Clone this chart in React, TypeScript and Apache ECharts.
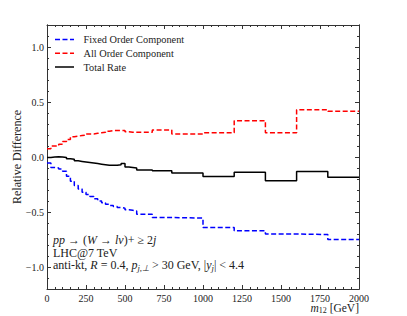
import React, { useEffect, useRef } from "react";
import * as echarts from "echarts";

// Bin edges (GeV) of m12
const binEdges = [0, 25, 50, 75, 100, 125, 150, 175, 200, 225, 250, 275, 300, 325, 350, 375, 400, 425, 450, 475, 500, 525, 550, 575, 675, 800, 1000, 1200, 1400, 1600, 1800, 2000];

// Relative difference per bin
const fixedOrder = [-0.055, -0.095, -0.1, -0.11, -0.13, -0.175, -0.22, -0.26, -0.29, -0.32, -0.34, -0.36, -0.38, -0.4, -0.415, -0.43, -0.44, -0.45, -0.46, -0.465, -0.48, -0.485, -0.49, -0.52, -0.55, -0.555, -0.64, -0.67, -0.7, -0.705, -0.75];
const allOrder = [0.075, 0.1, 0.1, 0.115, 0.14, 0.16, 0.185, 0.19, 0.195, 0.2, 0.21, 0.21, 0.215, 0.22, 0.225, 0.235, 0.24, 0.24, 0.24, 0.24, 0.23, 0.225, 0.225, 0.225, 0.245, 0.21, 0.22, 0.33, 0.22, 0.43, 0.415];
const totalRate = [-0.005, 0.0, 0.003, 0.0, -0.005, -0.015, -0.02, -0.035, -0.04, -0.045, -0.05, -0.055, -0.06, -0.065, -0.07, -0.075, -0.075, -0.075, -0.07, -0.06, -0.09, -0.095, -0.1, -0.118, -0.126, -0.146, -0.178, -0.138, -0.215, -0.132, -0.183];

const seriesNames = ["Fixed Order Component", "All Order Component", "Total Rate"];
const seriesColors = ["#0000ff", "#ff0000", "#000000"];
const seriesDashed = [true, true, false];
const yMajorTicks = [-1.0, -0.5, 0.0, 0.5, 1.0];
const yMinorTicks = [-1.2, -1.1, -0.9, -0.8, -0.7, -0.6, -0.4, -0.3, -0.2, -0.1, 0.1, 0.2, 0.3, 0.4, 0.6, 0.7, 0.8, 0.9, 1.1, 1.2];

const FONT = "Liberation Serif";
const DASH = [5, 2.5];

function toSteps(vals: number[]) {
  const pts: number[][] = vals.map((v, i) => [binEdges[i], v]);
  pts.push([binEdges[binEdges.length - 1], vals[vals.length - 1]]);
  return pts;
}

function fmt(v: number) {
  return v < 0 ? "\u2212" + Math.abs(v).toFixed(1) : v.toFixed(1);
}

export default function App() {
  const ref = useRef<HTMLDivElement>(null);
  useEffect(() => {
    if (!ref.current) return;
    const chart = echarts.init(ref.current, undefined, { renderer: "svg" });
    const axisLine = { show: true, onZero: false, lineStyle: { color: "#333", width: 1 } };
    const baseX = {
      type: "value" as const,
      min: 0,
      max: 2000,
      interval: 250,
      axisLine,
      splitLine: { show: false },
      axisTick: { show: true, inside: true, length: 4, lineStyle: { color: "#333" } },
      minorTick: { show: true, splitNumber: 5, length: 2, lineStyle: { color: "#333" } },
    };
    const baseY = {
      type: "value" as const,
      min: -1.2,
      max: 1.2,
      axisLine,
      splitLine: { show: false },
    };
    const legendY = [39.5, 53.3, 67];
    const legendGraphics: any[] = [];
    seriesNames.forEach((name, i) => {
      legendGraphics.push({
        type: "line",
        shape: { x1: 55, y1: legendY[i], x2: 74, y2: legendY[i] },
        style: { stroke: seriesColors[i], lineWidth: 1.5, lineDash: seriesDashed[i] ? DASH : null },
      });
      legendGraphics.push({
        type: "text",
        x: 83.5,
        y: legendY[i],
        style: { text: name, fontFamily: FONT, fontSize: 10.3, fill: "#222", textVerticalAlign: "middle" },
      });
    });
    chart.setOption({
      animation: false,
      grid: { left: 47, right: 48, top: 25, bottom: 27, containLabel: false },
      xAxis: [
        {
          ...baseX,
          position: "bottom",
          axisLabel: { show: true, fontFamily: FONT, fontSize: 10, color: "#222", margin: 4, formatter: (v: number) => String(v) },
        },
        {
          ...baseX,
          position: "top",
          axisLabel: { show: false },
        },
      ],
      yAxis: [
        {
          ...baseY,
          position: "left",
          axisTick: { show: true, inside: true, length: 4, customValues: yMajorTicks, lineStyle: { color: "#333" } },
          axisLabel: { show: true, customValues: yMajorTicks, formatter: fmt, fontFamily: FONT, fontSize: 10, color: "#222", margin: 3 },
        },
        {
          ...baseY,
          position: "left",
          axisTick: { show: true, inside: true, length: 2, customValues: yMinorTicks, lineStyle: { color: "#333" } },
          axisLabel: { show: false },
        },
        {
          ...baseY,
          position: "right",
          axisTick: { show: true, inside: true, length: 4, customValues: yMajorTicks, lineStyle: { color: "#333" } },
          axisLabel: { show: false },
        },
        {
          ...baseY,
          position: "right",
          axisTick: { show: true, inside: true, length: 2, customValues: yMinorTicks, lineStyle: { color: "#333" } },
          axisLabel: { show: false },
        },
      ],
      graphic: [
        ...legendGraphics,
        {
          type: "text",
          rotation: Math.PI / 2,
          x: 17,
          y: 157,
          style: { text: "Relative Difference", fontFamily: FONT, fontSize: 12, fill: "#222", textAlign: "center", textVerticalAlign: "middle" },
        },
        {
          type: "text",
          x: 359,
          y: 308,
          style: {
            text: "{i|m}{s|12} [GeV]",
            fontFamily: FONT,
            fontSize: 11.5,
            fill: "#222",
            textAlign: "right",
            textVerticalAlign: "middle",
            rich: {
              i: { fontFamily: FONT, fontStyle: "italic", fontSize: 11.5, fill: "#222" },
              s: { fontFamily: FONT, fontSize: 8, fill: "#222", padding: [5, 0, 0, 0] },
            },
          },
        },
        {
          type: "text",
          x: 53,
          y: 239.5,
          style: {
            text: "{i|pp} \u2192 ({i|W} \u2192 {i|l\u03bd})+ \u2265 2{i|j}",
            fontFamily: FONT,
            fontSize: 12,
            fill: "#222",
            textVerticalAlign: "middle",
            rich: {
              i: { fontFamily: FONT, fontStyle: "italic", fontSize: 12, fill: "#222" },
            },
          },
        },
        {
          type: "text",
          x: 53,
          y: 252.5,
          style: { text: "LHC@7 TeV", fontFamily: FONT, fontSize: 12, fill: "#222", textVerticalAlign: "middle" },
        },
        {
          type: "text",
          x: 53,
          y: 265,
          style: {
            text: "anti-kt, {i|R} = 0.4, {i|p}{s|j,\u22a5} > 30 GeV, |{i|y}{s|j}| < 4.4",
            fontFamily: FONT,
            fontSize: 12,
            fill: "#222",
            textVerticalAlign: "middle",
            rich: {
              i: { fontFamily: FONT, fontStyle: "italic", fontSize: 12, fill: "#222" },
              s: { fontFamily: FONT, fontStyle: "italic", fontSize: 8.5, fill: "#222", padding: [5, 0, 0, 0] },
            },
          },
        },
      ],
      series: seriesNames.map((name, i) => ({
        name,
        type: "line",
        step: "end",
        symbol: "none",
        data: toSteps([fixedOrder, allOrder, totalRate][i]),
        lineStyle: { color: seriesColors[i], width: 1.5, type: seriesDashed[i] ? DASH : "solid" },
        itemStyle: { color: seriesColors[i] },
        z: 3,
      })),
    });
    return () => chart.dispose();
  }, []);
  return (
    <div
      ref={ref}
      style={{ position: "fixed", left: 0, top: 0, width: 407, height: 316, background: "#fff" }}
    />
  );
}
